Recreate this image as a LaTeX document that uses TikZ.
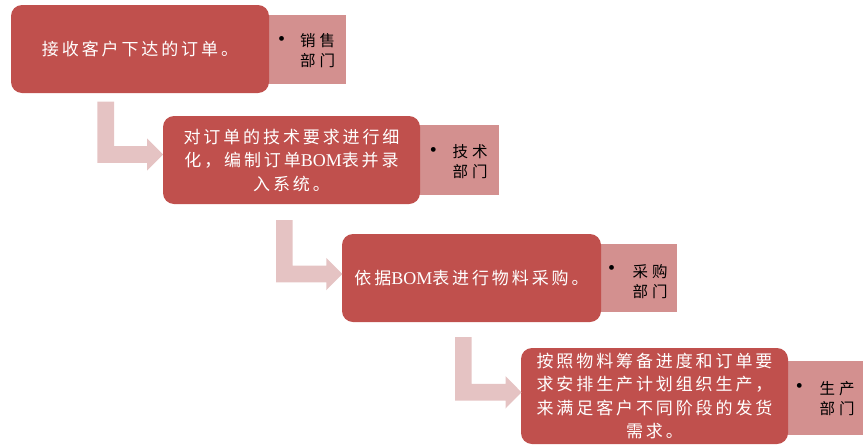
\documentclass[tikz,border=0pt]{standalone}
\usepackage{fontspec}
\setmainfont{Liberation Serif}
\newfontfamily\cjkmain[LetterSpace=17]{Noto Sans CJK SC}
\newfontfamily\cjkside[LetterSpace=25]{Noto Sans CJK SC}
\newcommand\bomtxt{{\rmfamily\fontsize{18}{23.5}\selectfont BOM}}
\definecolor{mainred}{HTML}{C0504D}
\definecolor{sidepink}{HTML}{D3908F}
\definecolor{arrowpink}{HTML}{E5C3C3}
\newcommand\bentarr[4]{%
  \fill[bentarrow] (#1,#2) -- ({#1+16.7},#2) -- ({#1+16.7},{#3-8.35}) -- ({#4-16},{#3-8.35})
    -- ({#4-16},{#3-16.2}) -- (#4,#3) -- ({#4-16},{#3+16.2}) -- ({#4-16},{#3+8.35})
    -- (#1,{#3+8.35}) -- cycle;}
\tikzset{
  mainbox/.style={fill=mainred, draw=none, rounded corners=11pt, text=white, align=center,
    inner sep=0pt, font=\cjkmain\fontsize{17}{23.5}\selectfont},
  sidebox/.style={fill=sidepink, draw=none, inner sep=0pt},
  sidetext/.style={anchor=west, align=left, inner sep=0pt, text=black,
    font=\cjkside\fontsize{15.5}{20}\selectfont},
  bulletmark/.style={inner sep=0pt, text=black, font=\fontsize{20}{20}\selectfont},
  bentarrow/.style={fill=arrowpink, draw=none}
}
\begin{document}
\begin{tikzpicture}[x=1pt,y=-1pt]
\useasboundingbox (0,0) rectangle (863,445);
% side boxes
\node[sidebox, minimum width=88pt, minimum height=69pt] (s1) at (302,49.5) {};
\node[sidebox, minimum width=89pt, minimum height=70pt] (s2) at (454.5,160) {};
\node[sidebox, minimum width=86pt, minimum height=68pt] (s3) at (634,278) {};
\node[sidebox, minimum width=85pt, minimum height=74pt] (s4) at (820.5,398) {};
% main boxes
\node[mainbox, minimum width=258pt, minimum height=88pt] (b1) at (140,49) {接收客户下达的订单。};
\node[mainbox, minimum width=257pt, minimum height=88pt] (b2) at (291.5,160)
  {对订单的技术要求进行细\\化，编制订单\bomtxt 表并录\\入系统。};
\node[mainbox, minimum width=259pt, minimum height=88pt] (b3) at (471.5,278)
  {依据\bomtxt 表进行物料采购。};
\node[mainbox, minimum width=267pt, minimum height=96pt] (b4) at (654.5,396)
  {按照物料筹备进度和订单要\\求安排生产计划组织生产，\\来满足客户不同阶段的发货\\需求。};
% side texts
\node[bulletmark] (d1) at (281.7,41) {•};
\node[sidetext] (t1) at (300,50.8) {销售\\部门};
\node[bulletmark] (d2) at (433.3,152) {•};
\node[sidetext] (t2) at (452.5,161.7) {技术\\部门};
\node[bulletmark] (d3) at (611.7,270) {•};
\node[sidetext] (t3) at (632.5,281.7) {采购\\部门};
\node[bulletmark] (d4) at (799.3,388.3) {•};
\node[sidetext] (t4) at (819.5,398.3) {生产\\部门};
% bent arrows
\bentarr{97.3}{101.7}{154.5}{163}
\bentarr{276}{220}{274}{342.3}
\bentarr{455}{337}{392.3}{521.5}
\end{tikzpicture}
\end{document}
